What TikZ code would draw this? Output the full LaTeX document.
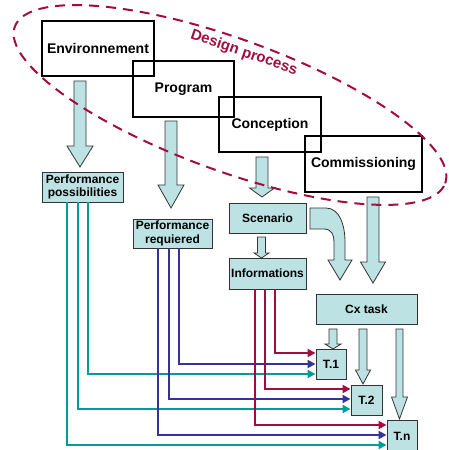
\documentclass[tikz,border=0pt]{standalone}
\usepackage{fontspec}
\setmainfont{Liberation Sans}
\usetikzlibrary{arrows.meta}
\definecolor{boxfill}{HTML}{BCE2E3}
\definecolor{edgec}{HTML}{333333}
\definecolor{dred}{HTML}{A30D3D}
\definecolor{tealc}{HTML}{009C9C}
\definecolor{bluec}{HTML}{333399}
\newcommand{\blkdown}[6]{\draw[barrow] (#1-#5,#2) -- (#1+#5,#2) -- (#1+#5,#3) -- (#1+#6,#3) -- (#1,#4) -- (#1-#6,#3) -- (#1-#5,#3) -- cycle;}
\begin{document}
\begin{tikzpicture}[x=1pt,y=-1pt,
 bigbox/.style={draw=black,line width=1.6pt,inner sep=0pt,font=\bfseries\fontsize{14}{16}\selectfont},
 smallbox/.style={draw=edgec,fill=boxfill,line width=0.9pt,inner sep=0pt,align=center,font=\bfseries\fontsize{12}{13.5}\selectfont},
 barrow/.style={draw=edgec,fill=boxfill,line width=0.8pt,line join=miter},
 conn/.style={line width=2.2pt,-{Triangle[length=8pt,width=8pt]}},
 tl/.style={conn,draw=tealc},
 bl/.style={conn,draw=bluec},
 rl/.style={conn,draw=dred}]
\useasboundingbox (0,0) rectangle (449,450);

% small boxes
\node[smallbox,minimum width=81pt,minimum height=30pt] (pp) at (82.5,187) {Performance\\possibilities};
\node[smallbox,minimum width=79pt,minimum height=29pt] (pr) at (172.5,233.5) {Performance\\requiered};
\node[smallbox,minimum width=77pt,minimum height=30pt] (sc) at (267.5,218) {Scenario};
\node[smallbox,minimum width=77pt,minimum height=31pt] (inf) at (267.5,273.5) {Informations};
\node[smallbox,minimum width=101pt,minimum height=30pt] (cx) at (366.5,309) {Cx task};
\node[smallbox,minimum width=30pt,minimum height=30pt] (t1) at (331,364) {T.1};
\node[smallbox,minimum width=31pt,minimum height=30pt] (t2) at (366.5,400) {T.2};
\node[smallbox,minimum width=30pt,minimum height=32pt] (tn) at (402,436) {T.n};

% connectors
\draw[tl] (pp.south -| 88,0) |- (t1.west |- 0,374);
\draw[tl] (pp.south -| 78,0) |- (t2.west |- 0,409);
\draw[tl] (pp.south -| 67,0) |- (tn.west |- 0,445);
\draw[bl] (pr.south -| 179,0) |- (t1.west |- 0,364);
\draw[bl] (pr.south -| 169,0) |- (t2.west |- 0,399);
\draw[bl] (pr.south -| 158,0) |- (tn.west |- 0,435);
\draw[rl] (inf.south -| 275,0) |- (t1.west |- 0,353);
\draw[rl] (inf.south -| 265,0) |- (t2.west |- 0,389);
\draw[rl] (inf.south -| 255,0) |- (tn.west |- 0,425);

% big boxes
\node[bigbox,minimum width=112pt,minimum height=55pt] (env) at (98,48.5) {Environnement};
\node[bigbox,minimum width=101pt,minimum height=56pt] (prog) at (183.5,89) {Program};
\node[bigbox,minimum width=102pt,minimum height=55pt] (conc) at (270,124.5) {Conception};
\node[bigbox,minimum width=117pt,minimum height=56pt] (comm) at (363.5,164) {Commissioning};

% block arrows
\blkdown{80}{81}{146}{167}{6}{13}
\blkdown{171}{121}{185}{208}{6}{13}
\blkdown{262}{157}{188}{197}{6}{12.5}
\blkdown{261.5}{237}{253}{258}{4}{7.5}
\blkdown{373}{197}{262}{283}{6}{12.5}
\blkdown{333}{329}{344}{349}{4}{8}
\blkdown{363}{329}{370}{384}{4}{7.5}
\blkdown{399.5}{329}{397}{419}{3.5}{8}
\draw[barrow] (310,208) -- (326,208) .. controls (340,208) and (345,226) .. (345,242) -- (345,260) -- (352,260) -- (340,280) -- (328,260) -- (334,260) -- (334,243) .. controls (334,234) and (331,229) .. (324,229) -- (310,229) -- cycle;

% design process
\draw[dred,line width=2pt,dash pattern=on 10pt off 7pt,rotate around={-20:(230,105)}] (230,105) ellipse [x radius=229pt,y radius=66pt];
\node[text=dred,font=\bfseries\fontsize{15}{17}\selectfont,rotate=-19] (dp) at (244,53) {Design process};
\end{tikzpicture}
\end{document}
